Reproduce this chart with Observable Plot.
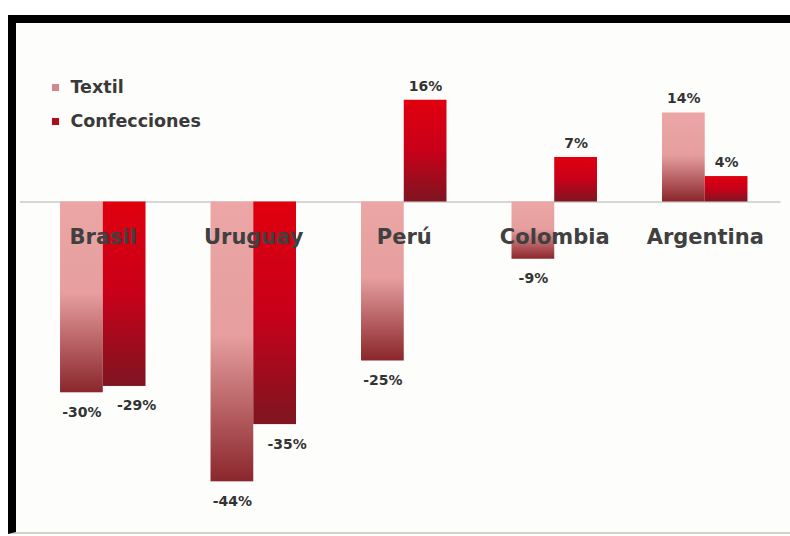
<!DOCTYPE html>
<html>
<head>
<meta charset="utf-8">
<script src="https://cdn.jsdelivr.net/npm/d3@7"></script>
<script src="https://cdn.jsdelivr.net/npm/@observablehq/plot@0.6"></script>
<style>
  html, body { margin: 0; padding: 0; background: #ffffff; }
  #wrap { position: relative; width: 790px; height: 536px; overflow: hidden; background: #ffffff; }
  #frame {
    position: absolute; left: 8px; top: 15px; width: 800px; height: 519px;
    box-sizing: border-box; background: #fdfdfb;
    border-top: 8px solid #000; border-left: 8px solid #000; border-bottom: 2px solid #d2d2ca;
  }
  #chart { position: absolute; left: 0; top: 0; }
</style>
</head>
<body>
<div id="wrap">
  <div id="frame"></div>
  <div id="chart"></div>
</div>
<script>
// ---- data ----
const countries = ["Brasil", "Uruguay", "Perú", "Colombia", "Argentina"];
const seriesNames = ["Textil", "Confecciones"];
const textil = [-30, -44, -25, -9, 14];
const confecciones = [-29, -35, 16, 7, 4];

const rows = countries.flatMap((c, i) => [
  {country: c, series: "Textil", value: textil[i]},
  {country: c, series: "Confecciones", value: confecciones[i]}
]);

// ---- layout ----
const W = 790, H = 536;
const mL = 20, mR = 2.5, mT = 42.5, mB = 16.5;
const pInner = 0.432, pOuter = 0.266;
const step = (W - mL - mR) / (countries.length - pInner + 2 * pOuter);
const bw = step * (1 - pInner);
const half = bw / 2;

const font = "DejaVu Sans, Liberation Sans, Arial, sans-serif";
const fillOf = {Textil: "url(#gTextil)", Confecciones: "url(#gConf)"};
const legendColor = {Textil: "#d0898c", Confecciones: "#a80f1d"};
const fmt = v => `${v}%`;

const marks = [
  Plot.ruleY([0], {stroke: "#c9c9c9", strokeWidth: 1.5, insetRight: 7})
];

seriesNames.forEach((s, si) => {
  const d = rows.filter(r => r.series === s);
  const left = si === 0;
  marks.push(Plot.barY(d, {
    x: "country", y: "value", fill: fillOf[s],
    insetLeft: left ? 0 : half, insetRight: left ? half : 0
  }));
});

// category labels (drawn above the bars)
marks.push(Plot.text(countries, {
  x: d => d, y: () => 0, dy: 35,
  fontSize: 21, fontWeight: "bold", fill: "#404040", fontFamily: font
}));

// value labels
seriesNames.forEach((s, si) => {
  const left = si === 0;
  const base = left ? -bw / 4 : bw / 4;
  const neg = rows.filter(r => r.series === s && r.value < 0);
  const pos = rows.filter(r => r.series === s && r.value >= 0);
  marks.push(Plot.text(neg, {
    x: "country", y: "value", text: d => fmt(d.value),
    dx: base + (left ? 0 : 12), dy: 19.5,
    fontSize: 14, fontWeight: "bold", fill: "#333", fontFamily: font
  }));
  marks.push(Plot.text(pos, {
    x: "country", y: "value", text: d => fmt(d.value),
    dx: base, dy: -14,
    fontSize: 14, fontWeight: "bold", fill: "#333", fontFamily: font
  }));
});

// legend inside the plot area
seriesNames.forEach((s, i) => {
  marks.push(Plot.dot([s], {
    frameAnchor: "top-left", dx: 55 - mL, dy: 87 - mT + i * 34,
    symbol: "square", r: 4, fill: legendColor[s], stroke: "none"
  }));
  marks.push(Plot.text([s], {
    frameAnchor: "top-left", dx: 70 - mL, dy: 87 - mT + i * 34,
    text: d => d, textAnchor: "start", lineAnchor: "middle",
    fontSize: 17.5, fontWeight: "bold", fill: "#3a3a3a", fontFamily: font
  }));
});

const svg = Plot.plot({
  width: W, height: H,
  marginLeft: mL, marginRight: mR, marginTop: mT, marginBottom: mB,
  style: {background: "transparent", fontFamily: font},
  x: {type: "band", domain: countries, paddingInner: pInner, paddingOuter: pOuter, align: 0.5, round: false, axis: null},
  y: {domain: [-50, 25], axis: null},
  marks
});

// vertical gradients for the bars
const defs = d3.select(svg).insert("defs", ":first-child");
function grad(id, stops) {
  const g = defs.append("linearGradient").attr("id", id)
    .attr("x1", 0).attr("y1", 0).attr("x2", 0).attr("y2", 1);
  stops.forEach(([o, c]) => g.append("stop").attr("offset", o).attr("stop-color", c));
}
grad("gTextil", [[0, "#eca6a6"], [0.48, "#e69e9e"], [1, "#8a262c"]]);
grad("gConf", [[0, "#e0000e"], [0.5, "#c80019"], [1, "#7e1521"]]);

document.getElementById("chart").appendChild(svg);
</script>
</body>
</html>
